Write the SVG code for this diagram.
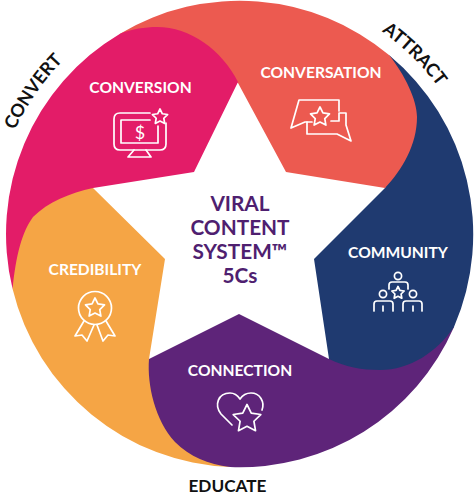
<svg xmlns="http://www.w3.org/2000/svg" xmlns:xlink="http://www.w3.org/1999/xlink" width="474" height="498" viewBox="0 0 474 498">
<style>
text{font-family:Lato,"Liberation Sans",sans-serif;font-weight:700}
.t{fill:#fff;font-size:15.6px;text-anchor:middle}
.c{fill:#4f1f70;font-size:20.8px;text-anchor:middle}
.o{fill:#111;font-size:18px}
.i{fill:none;stroke:#fff;stroke-width:1.7;stroke-linejoin:round;stroke-linecap:round}
.s{vector-effect:non-scaling-stroke}
</style>
<defs>
<polygon id="star" class="s" points="0,-10 2.94,-4.05 9.51,-3.09 4.76,1.55 5.88,8.09 0,5 -5.88,8.09 -4.76,1.55 -9.51,-3.09 -2.94,-4.05"/>
<path id="arcConvert" d="M-4,190A247,247 0 0 1 112,22"/>
<path id="arcAttract" d="M322,0A248,248 0 0 1 470,146"/>
</defs>
<rect width="474" height="498" fill="#fff"/>
<g id="credibility">
<path fill="#f5a545" d="M93,188L165,259L149,359L170,430L230,467A233,233 0 0 1 12.6,289L14,240L40,195L93,184Z"/>
</g>
<g id="connection">
<path fill="#5e2479" d="M149,359L239,314L329,359L345,345L430,330L454,327A233,233 0 0 1 230,467C208,464 190,457 175,442C155,420 147,385 149,359Z"/>
</g>
<g id="community">
<path fill="#1f3a70" d="M385,188L314,259L329,359C345,367 362,370 380,370C410,370 437,352 454,327A233,233 0 0 0 389,55L410,120Z"/>
</g>
<g id="conversation">
<path fill="#ec5a50" d="M120,33.7A233,233 0 0 1 389,55C405,75 417,100 417,117C417,145 402,170 385,188L286,172L238,83L200,60L150,40Z"/>
</g>
<g id="conversion">
<path fill="#e31c68" d="M12.6,289A233,233 0 0 1 120,33.7C132,29 145,27 157,27C190,27 222,50 238,82L194,172L93,188C70,193 48,202 33,217C22,232 16,255 12.6,289Z"/>
</g>
<g id="conversion-content">
<text class="t" x="140.5" y="93">CONVERSION</text>
<g class="i">
<path d="M150,113H120Q114,113 114,119V144Q114,150 120,150H160Q166,150 166,144V123"/>
<path d="M150,120H121V143H158V126"/>
<path d="M134,150L128,157H151L146,150"/>
<use href="#star" transform="translate(160,117) scale(.8)"/>
</g>
<text x="140" y="139" font-size="18" fill="#fff" text-anchor="middle" style="font-weight:400">$</text>
</g>
<g id="conversation-content">
<text class="t" x="321" y="78">CONVERSATION</text>
<g class="i">
<path d="M312,122H305L291,128L299,100H339V111"/>
<path d="M331,121H339V113H346V125L351,141L337,134H307V122"/>
<use href="#star" transform="translate(320,117)"/>
</g>
</g>
<g id="community-content">
<text class="t" x="398" y="258">COMMUNITY</text>
<g class="i">
<circle cx="398" cy="276" r="3.6"/><circle cx="383" cy="294" r="3.6"/><circle cx="413" cy="294" r="3.6"/>
<path d="M389,289V285Q389,282 392,282H405Q408,282 408,285V289"/>
<path d="M374,311V304Q374,301 377,301H390Q393,301 393,304V311M383,306V311"/>
<path d="M403,311V304Q403,301 406,301H419Q422,301 422,304V311M413,306V311"/>
<use href="#star" transform="translate(398,293) scale(.65)"/>
</g>
</g>
<g id="credibility-content">
<text class="t" x="95" y="275">CREDIBILITY</text>
<g class="i">
<circle cx="95" cy="308" r="16.5"/>
<path d="M84,321L75,336L82,335L87,341L94,325"/>
<path d="M106,321L115,336L108,335L103,341L97,325"/>
<use href="#star" transform="translate(95,308)"/>
</g>
</g>
<g id="connection-content">
<text class="t" x="240" y="376">CONNECTION</text>
<g class="i">
<path d="M232,425L221,414C214,405 218,393 230,393C235,393 238,396 240,399C242,396 246,393 251,393C260,393 265,402 262,410"/>
<use href="#star" transform="translate(247,419) scale(1.45)"/>
</g>
</g>
<g id="center">
<text class="c" x="240" y="211">VIRAL</text>
<text class="c" x="240" y="235">CONTENT</text>
<text class="c" x="240" y="259">SYSTEM™</text>
<text class="c" x="240" y="283">5Cs</text>
</g>
<g id="outer-labels">
<text class="o" text-anchor="middle"><textPath href="#arcConvert" startOffset="50%">CONVERT</textPath></text>
<text class="o" text-anchor="middle"><textPath href="#arcAttract" startOffset="50%">ATTRACT</textPath></text>
<text class="o" x="227.5" y="492" text-anchor="middle" style="font-size:17.2px">EDUCATE</text>
</g>
</svg>
